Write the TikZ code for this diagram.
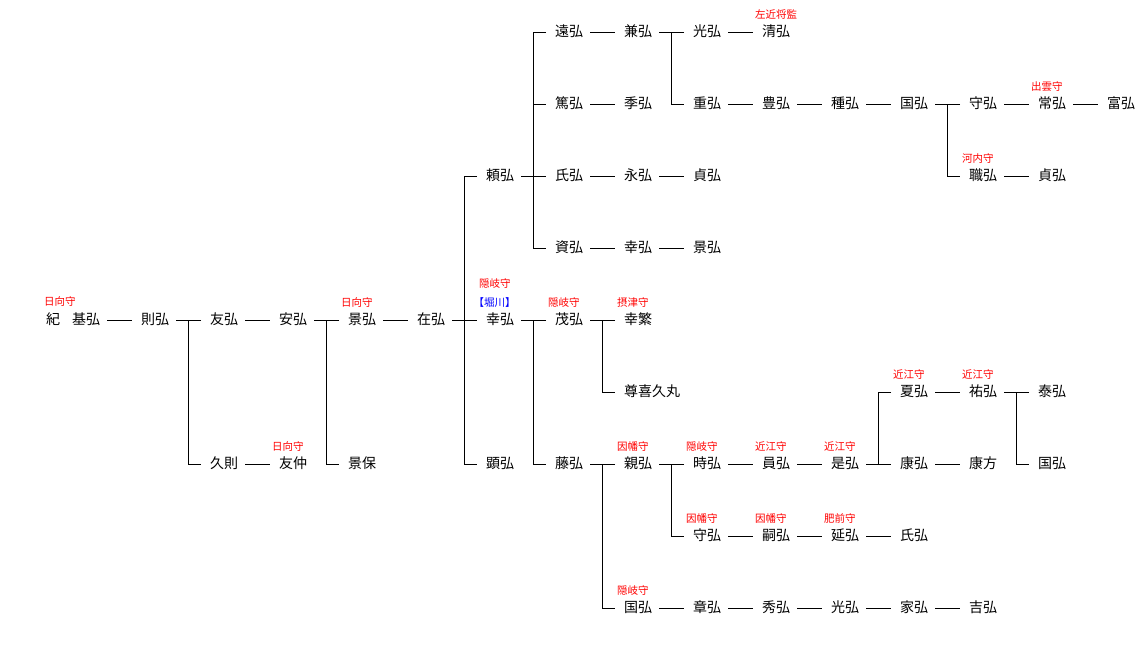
\documentclass[tikz,border=0pt]{standalone}
\usepackage{fontspec}
\setmainfont{Noto Sans CJK JP}
\usetikzlibrary{calc}
\definecolor{lblred}{RGB}{255,0,0}
\definecolor{lblblue}{RGB}{0,0,255}
\tikzset{
  nm/.style={anchor=west, inner sep=0pt, outer sep=0pt, font=\fontsize{14}{14}\selectfont, text height=0.95em, text depth=0.05em},
  lab/.style={inner sep=0pt, outer sep=0pt, text=lblred, font=\fontsize{10.5}{10.5}\selectfont, text height=0.95em, text depth=0.05em},
  edge/.style={draw=black, line width=1pt},
}
\newcommand\nm[4]{\node[nm] (#1) at ({3+69*#2},{32+72*#3}) {#4};}
\newcommand\conn[2]{\draw[edge] ($(#1.east)+(7,0)$) -- ($(#2.west)+(-9,0)$);}
\newcommand\bracketto[2]{\draw[edge] ($(#1.west)+(-9,0)$) -- ($(#1.west)+(-22,0)$) -- ($(#2.west)+(-22,0)$) -- ($(#2.west)+(-9,0)$);}
\newcommand\tickto[1]{\draw[edge] ($(#1.west)+(-22,0)$) -- ($(#1.west)+(-9,0)$);}
\newcommand\lbl[3]{\node[lab, anchor=west] (#1) at ($(#2.west)+(-7,-18.5)$) {#3};}
\begin{document}
\begin{tikzpicture}[x=1pt,y=-1pt]
\useasboundingbox (0,0) rectangle (1144,646);
% row 0
\nm{toohiro}{8}{0}{遠弘}
\nm{kanehiro}{9}{0}{兼弘}
\nm{mitsuhiro}{10}{0}{光弘}
\nm{kiyohiro}{11}{0}{清弘}
% row 1
\nm{atsuhiro}{8}{1}{篤弘}
\nm{suehiro}{9}{1}{季弘}
\nm{shigehiro}{10}{1}{重弘}
\nm{toyohiro}{11}{1}{豊弘}
\nm{tanehiro}{12}{1}{種弘}
\nm{kunihiroA}{13}{1}{国弘}
\nm{morihiroA}{14}{1}{守弘}
\nm{tsunehiro}{15}{1}{常弘}
\nm{tomihiro}{16}{1}{富弘}
% row 2
\nm{yorihiro}{7}{2}{頼弘}
\nm{ujihiroA}{8}{2}{氏弘}
\nm{nagahiro}{9}{2}{永弘}
\nm{sadahiroA}{10}{2}{貞弘}
\nm{shokuhiro}{14}{2}{職弘}
\nm{sadahiroB}{15}{2}{貞弘}
% row 3
\nm{sukehiro}{8}{3}{資弘}
\nm{yukihiroB}{9}{3}{幸弘}
\nm{kagehiroB}{10}{3}{景弘}
% row 4
\node[nm] (ki) at (46,32+72*4) {紀};
\nm{motohiro}{1}{4}{基弘}
\nm{norihiro}{2}{4}{則弘}
\nm{tomohiro}{3}{4}{友弘}
\nm{yasuhiro}{4}{4}{安弘}
\nm{kagehiroA}{5}{4}{景弘}
\nm{arihiro}{6}{4}{在弘}
\nm{yukihiroA}{7}{4}{幸弘}
\nm{shigehiroB}{8}{4}{茂弘}
\nm{yukishige}{9}{4}{幸繁}
% row 5
\nm{sonkikyu}{9}{5}{尊喜久丸}
\nm{natsuhiro}{13}{5}{夏弘}
\nm{sukehiroB}{14}{5}{祐弘}
\nm{yasuhiroB}{15}{5}{泰弘}
% row 6
\nm{hisanori}{3}{6}{久則}
\nm{tomonaka}{4}{6}{友仲}
\nm{kageyasu}{5}{6}{景保}
\nm{akihiro}{7}{6}{顕弘}
\nm{fujihiro}{8}{6}{藤弘}
\nm{chikahiro}{9}{6}{親弘}
\nm{tokihiro}{10}{6}{時弘}
\nm{kazuhiro}{11}{6}{員弘}
\nm{korehiro}{12}{6}{是弘}
\nm{yasuhiroC}{13}{6}{康弘}
\nm{yasukata}{14}{6}{康方}
\nm{kunihiroB}{15}{6}{国弘}
% row 7
\nm{morihiroB}{10}{7}{守弘}
\nm{tsuguhiro}{11}{7}{嗣弘}
\nm{nobuhiro}{12}{7}{延弘}
\nm{ujihiroB}{13}{7}{氏弘}
% row 8
\nm{kunihiroC}{9}{8}{国弘}
\nm{akihiroB}{10}{8}{章弘}
\nm{hidehiro}{11}{8}{秀弘}
\nm{mitsuhiroB}{12}{8}{光弘}
\nm{iehiro}{13}{8}{家弘}
\nm{yoshihiro}{14}{8}{吉弘}
% labels
\node[lab, anchor=west] (lbKi) at ($(ki.west)+(-2,-19)$) {日向守};
\lbl{lbKagehiroA}{kagehiroA}{日向守}
\node[lab, anchor=west] (lbYukihiroA) at ($(yukihiroA.west)+(-7,-37)$) {隠岐守};
\node[lab, text=lblblue] (lbHorikawa) at ($(yukihiroA.west)+(8.5,-18.5)$) {【堀川】};
\lbl{lbShigehiroB}{shigehiroB}{隠岐守}
\lbl{lbYukishige}{yukishige}{摂津守}
\lbl{lbKiyohiro}{kiyohiro}{左近将監}
\lbl{lbTsunehiro}{tsunehiro}{出雲守}
\lbl{lbShokuhiro}{shokuhiro}{河内守}
\lbl{lbTomonaka}{tomonaka}{日向守}
\lbl{lbChikahiro}{chikahiro}{因幡守}
\lbl{lbTokihiro}{tokihiro}{隠岐守}
\lbl{lbKazuhiro}{kazuhiro}{近江守}
\lbl{lbKorehiro}{korehiro}{近江守}
\lbl{lbNatsuhiro}{natsuhiro}{近江守}
\lbl{lbSukehiroB}{sukehiroB}{近江守}
\lbl{lbMorihiroB}{morihiroB}{因幡守}
\lbl{lbTsuguhiro}{tsuguhiro}{因幡守}
\lbl{lbNobuhiro}{nobuhiro}{肥前守}
\lbl{lbKunihiroC}{kunihiroC}{隠岐守}
% forks
\bracketto{tomohiro}{hisanori}\conn{norihiro}{tomohiro}
\bracketto{kagehiroA}{kageyasu}\conn{yasuhiro}{kagehiroA}
\bracketto{yorihiro}{akihiro}\conn{arihiro}{yukihiroA}
\bracketto{toohiro}{sukehiro}\tickto{atsuhiro}\conn{yorihiro}{ujihiroA}
\bracketto{shigehiroB}{fujihiro}\conn{yukihiroA}{shigehiroB}
\bracketto{mitsuhiro}{shigehiro}\conn{kanehiro}{mitsuhiro}
\bracketto{morihiroA}{shokuhiro}\conn{kunihiroA}{morihiroA}
\bracketto{yukishige}{sonkikyu}\conn{shigehiroB}{yukishige}
\bracketto{chikahiro}{kunihiroC}\conn{fujihiro}{chikahiro}
\bracketto{tokihiro}{morihiroB}\conn{chikahiro}{tokihiro}
\bracketto{natsuhiro}{yasuhiroC}\conn{korehiro}{yasuhiroC}
\bracketto{yasuhiroB}{kunihiroB}\conn{sukehiroB}{yasuhiroB}
% straight lines
\conn{motohiro}{norihiro}
\conn{tomohiro}{yasuhiro}
\conn{hisanori}{tomonaka}
\conn{kagehiroA}{arihiro}
\conn{toohiro}{kanehiro}
\conn{mitsuhiro}{kiyohiro}
\conn{atsuhiro}{suehiro}
\conn{shigehiro}{toyohiro}
\conn{toyohiro}{tanehiro}
\conn{tanehiro}{kunihiroA}
\conn{morihiroA}{tsunehiro}
\conn{tsunehiro}{tomihiro}
\conn{shokuhiro}{sadahiroB}
\conn{ujihiroA}{nagahiro}
\conn{nagahiro}{sadahiroA}
\conn{sukehiro}{yukihiroB}
\conn{yukihiroB}{kagehiroB}
\conn{tokihiro}{kazuhiro}
\conn{kazuhiro}{korehiro}
\conn{natsuhiro}{sukehiroB}
\conn{yasuhiroC}{yasukata}
\conn{morihiroB}{tsuguhiro}
\conn{tsuguhiro}{nobuhiro}
\conn{nobuhiro}{ujihiroB}
\conn{kunihiroC}{akihiroB}
\conn{akihiroB}{hidehiro}
\conn{hidehiro}{mitsuhiroB}
\conn{mitsuhiroB}{iehiro}
\conn{iehiro}{yoshihiro}
\end{tikzpicture}
\end{document}
